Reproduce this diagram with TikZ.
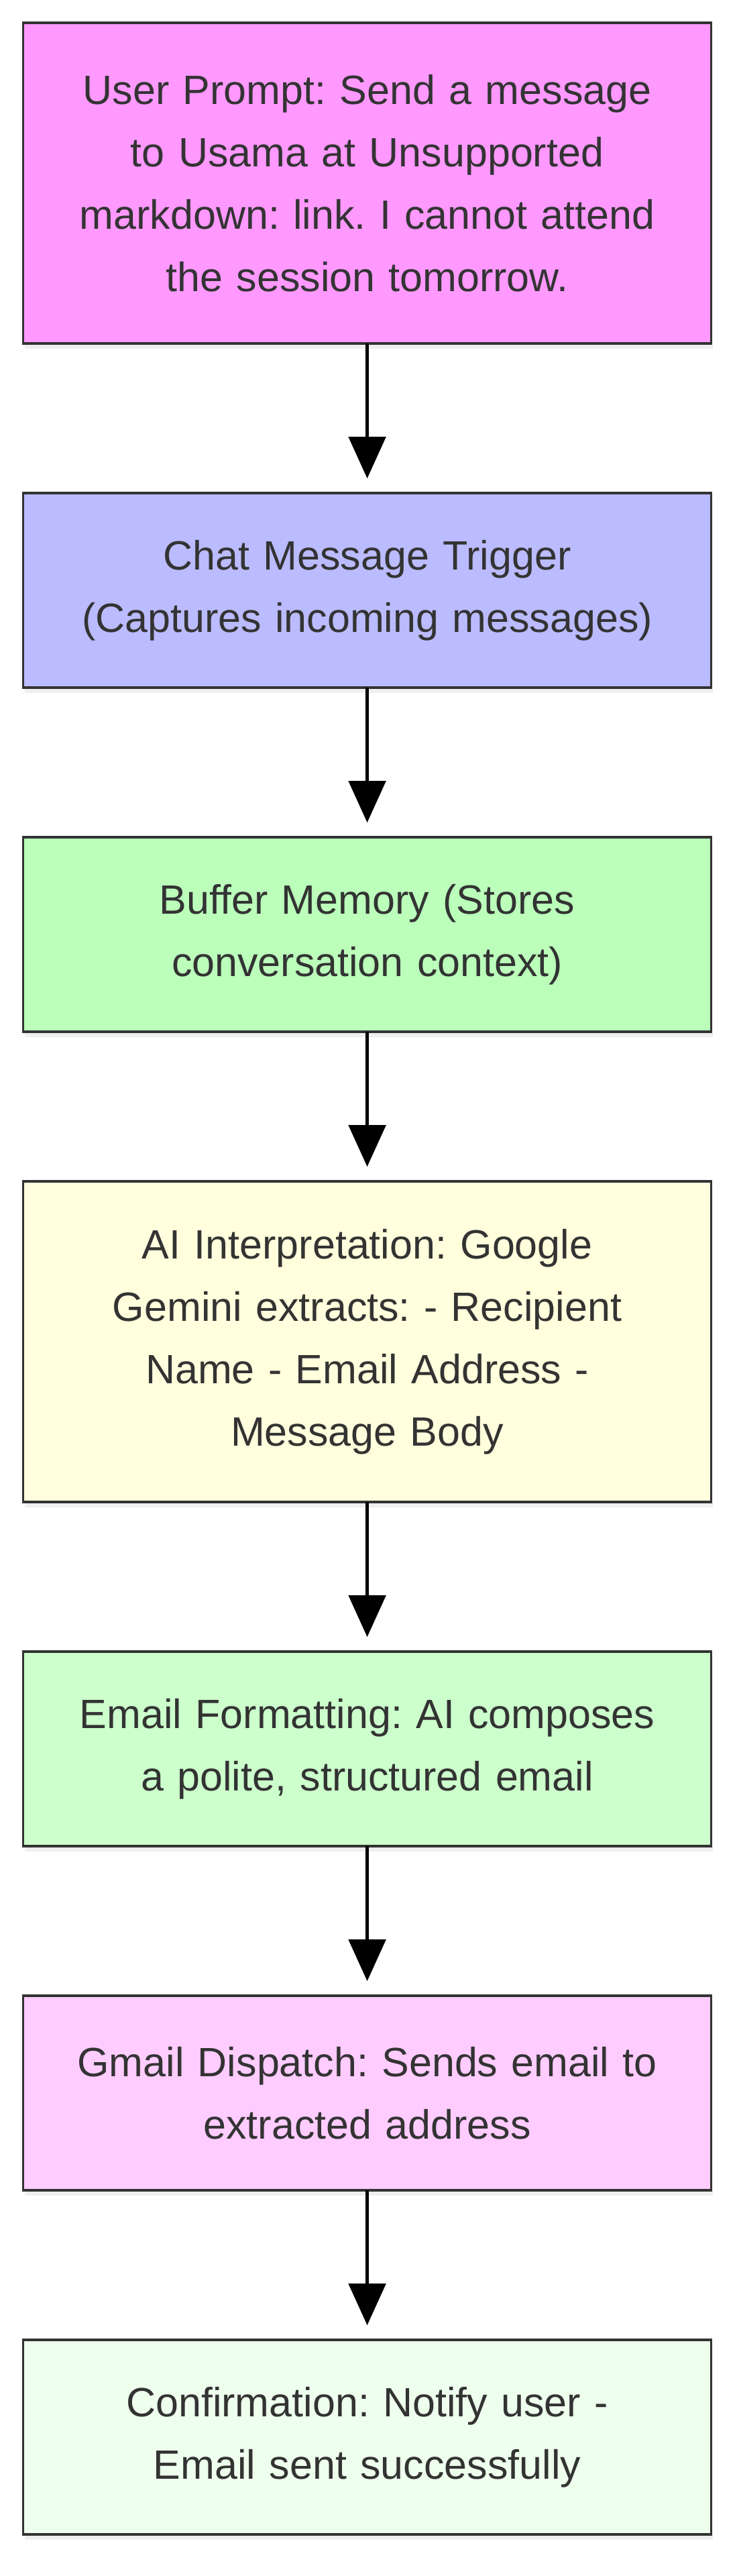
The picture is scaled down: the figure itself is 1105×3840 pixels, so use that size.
\documentclass[tikz,border=0pt]{standalone}
\usepackage{fontspec}
\setmainfont{Liberation Sans}
\usetikzlibrary{positioning,arrows.meta,shadows}
\definecolor{txtgray}{HTML}{333333}
\definecolor{promptfill}{HTML}{FF99FF}
\definecolor{triggerfill}{HTML}{BBBBFF}
\definecolor{memoryfill}{HTML}{BBFFBB}
\definecolor{interpfill}{HTML}{FFFFDD}
\definecolor{formatfill}{HTML}{CCFFCC}
\definecolor{dispatchfill}{HTML}{FFCCFF}
\definecolor{confirmfill}{HTML}{EEFFEE}
\tikzset{
  stage/.style={draw=txtgray, line width=3.5pt, text=txtgray, outer sep=0pt,
    minimum width=1026pt, minimum height=290pt, text width=980pt,
    align=center, font=\fontsize{61}{93}\selectfont,
    drop shadow={shadow xshift=2pt, shadow yshift=-8pt, opacity=0.12}},
  tallstage/.style={stage, minimum height=478pt},
  flow/.style={line width=5pt, -{Triangle[width=55pt,length=62pt]}, shorten >=22pt}
}
\frenchspacing
\begin{document}
\begin{tikzpicture}[x=1pt,y=1pt, node distance=223pt]
  \useasboundingbox (0,0) rectangle (1105,-3840);
  \fill[white] (0,0) rectangle (1105,-3840);
  \node [tallstage, fill=promptfill] (prompt) at (547.6,-273.2)
    {User Prompt: Send a message\\to Usama at Unsupported\\markdown: link. I cannot attend\\the session tomorrow.};
  \node [stage, fill=triggerfill, below=of prompt] (trigger)
    {Chat Message Trigger\\(Captures incoming messages)};
  \node [stage, fill=memoryfill, below=of trigger] (memory)
    {Buffer Memory (Stores\\conversation context)};
  \node [tallstage, fill=interpfill, below=of memory] (interpret)
    {AI Interpretation: Google\\Gemini extracts: - Recipient\\Name - Email Address -\\Message Body};
  \node [stage, fill=formatfill, below=of interpret] (format)
    {Email Formatting: AI composes\\a polite, structured email};
  \node [stage, fill=dispatchfill, below=of format] (dispatch)
    {Gmail Dispatch: Sends email to\\extracted address};
  \node [stage, fill=confirmfill, below=of dispatch] (confirm)
    {Confirmation: Notify user -\\Email sent successfully};
  \foreach \a/\b in {prompt/trigger, trigger/memory, memory/interpret,
                     interpret/format, format/dispatch, dispatch/confirm}
    \draw [flow] (\a) -- (\b);
\end{tikzpicture}
\end{document}
